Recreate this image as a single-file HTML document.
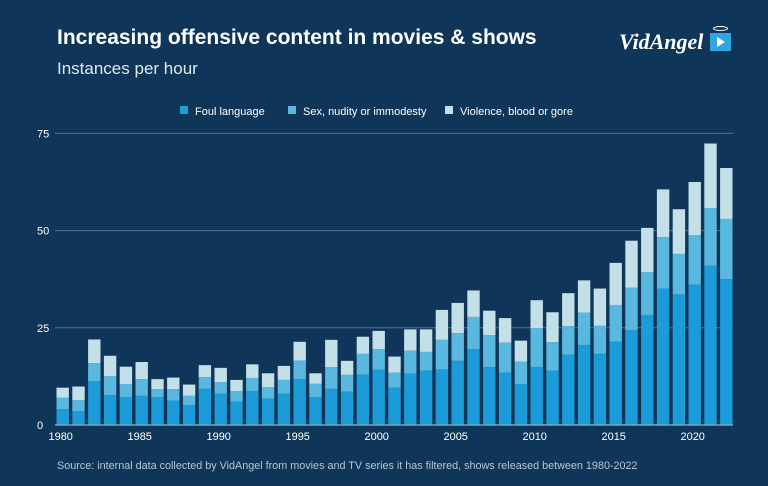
<!DOCTYPE html>
<html><head><meta charset="utf-8"><style>
body{margin:0;background:#0f3658;}
#wrap{position:relative;width:768px;height:486px;background:#0f3658;overflow:hidden;font-family:"Liberation Sans",sans-serif;color:#fff;}
.t{position:absolute;white-space:nowrap;}
</style></head><body>
<div id="wrap">
<div class="t" style="left:57px;top:26px;font-size:21px;font-weight:bold;">Increasing offensive content in movies &amp; shows</div>
<div class="t" style="left:57px;top:59px;font-size:17px;color:#dfe8ef;">Instances per hour</div>
<div class="t" style="left:619px;top:29px;font-size:22px;font-style:italic;font-family:'Liberation Serif',serif;font-weight:bold;">VidAngel</div>
<div style="position:absolute;left:710px;top:33px;width:21px;height:18px;background:#2ea6e0;"><div style="position:absolute;left:7px;top:4px;border-left:8px solid #fff;border-top:5px solid transparent;border-bottom:5px solid transparent;"></div></div>
<div style="position:absolute;left:713px;top:26px;width:13px;height:3px;border:1px solid #fff;border-radius:50%;"></div>
<svg id="chart" width="768" height="486" style="position:absolute;left:0;top:0"></svg>
<div class="t" style="left:57px;top:460px;font-size:10.8px;color:#b8c6d3;">Source: internal data collected by VidAngel from movies and TV series it has filtered, shows released between 1980-2022</div>
</div>
<script>
const years=[1980,1981,1982,1983,1984,1985,1986,1987,1988,1989,1990,1991,1992,1993,1994,1995,1996,1997,1998,1999,2000,2001,2002,2003,2004,2005,2006,2007,2008,2009,2010,2011,2012,2013,2014,2015,2016,2017,2018,2019,2020,2021,2022];
const foul=[4.1,3.6,11.3,7.7,7.2,7.5,7.2,6.3,5.1,9.3,8.1,6.0,8.7,6.8,8.1,11.8,7.2,9.3,8.6,13.0,14.2,9.6,13.2,14.0,14.3,16.5,19.5,14.9,13.5,10.5,14.9,14.0,18.1,20.6,18.3,21.4,24.4,28.3,35.1,33.6,36.1,41.0,37.5];
const sex=[2.9,2.8,4.6,4.9,3.3,4.3,2.0,2.9,2.4,3.0,2.9,2.7,3.4,2.9,3.5,4.8,3.4,5.6,4.3,5.3,5.3,3.9,5.9,4.8,7.6,7.1,8.3,8.2,7.7,5.8,10.0,7.3,7.3,8.3,7.2,9.4,10.9,11.0,13.2,10.4,12.7,14.8,15.5];
const violence=[2.6,3.5,6.1,5.2,4.5,4.4,2.6,3.0,2.9,3.1,3.7,2.9,3.5,3.6,3.6,4.8,2.7,7.0,3.6,4.4,4.7,4.1,5.5,5.8,7.7,7.8,6.8,6.3,6.3,5.4,7.2,7.7,8.5,8.3,9.6,10.9,12.1,11.4,12.3,11.5,13.7,16.6,13.1];
const yTicks=[0,25,50,75];
const xTicks=[1980,1985,1990,1995,2000,2005,2010,2015,2020];
const seriesNames=["Foul language","Sex, nudity or immodesty","Violence, blood or gore"];
const colors=["#1b9bd7","#5ab7de","#c3dfe8"];
const svg=document.getElementById('chart');
const NS='http://www.w3.org/2000/svg';
const y0=425,pxPer=97.2/25,x0=62.7,step=15.8,bw=12.4;
const Y=v=>y0-v*pxPer;
const X=yr=>x0+(yr-1980)*step;
function mk(tag,attrs){const e=document.createElementNS(NS,tag);for(const k in attrs)e.setAttribute(k,attrs[k]);svg.appendChild(e);return e;}
yTicks.forEach(t=>{
 if(t>0){const l=mk('line',{x1:55,x2:733,y1:Y(t),y2:Y(t),stroke:'#4f7595','stroke-width':1});
 
 }
 const tx=mk('text',{x:37,y:Y(t)+4,fill:'#fff','font-size':11,'font-family':'Liberation Sans, sans-serif'});
 tx.textContent=t;
 
 
});
years.forEach((yr,i)=>{
 const vals=[foul[i],sex[i],violence[i]];let acc=0;
 vals.forEach((v,s)=>{
  const r=mk('rect',{x:X(yr)-bw/2,y:Y(acc+v),width:bw,height:v*pxPer,fill:colors[s]});
  
  
  acc+=v;
 });
});
const base=mk('line',{x1:55,x2:733,y1:y0,y2:y0,stroke:'#6fa8cc','stroke-width':1.5});


xTicks.forEach(t=>{
 const tx=mk('text',{x:X(t)-2,y:440,fill:'#fff','font-size':11,'text-anchor':'middle','font-family':'Liberation Sans, sans-serif'});
 tx.textContent=t;
 
 
});
const legX=[180,288,445];
seriesNames.forEach((n,i)=>{
 const r=mk('rect',{x:legX[i],y:106,width:8,height:8,fill:colors[i]});
 
 
 const tx=mk('text',{x:legX[i]+15,y:115,fill:'#fff','font-size':11,'font-family':'Liberation Sans, sans-serif'});
 tx.textContent=n;
 
 
});
</script>
</body></html>
